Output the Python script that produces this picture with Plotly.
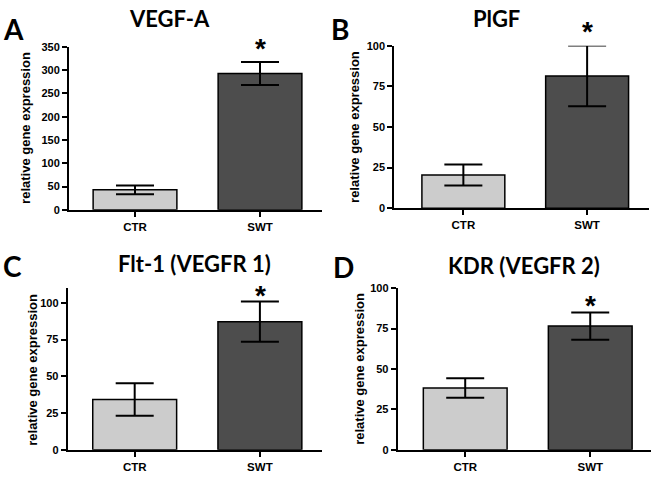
import plotly.graph_objects as go
from plotly.subplots import make_subplots

categories = ["CTR", "SWT"]
titles = ["VEGF-A", "PlGF", "Flt-1 (VEGFR 1)", "KDR (VEGFR 2)"]
letters = ["A", "B", "C", "D"]

vegfa_mean = [43, 293]
vegfa_err = [9.5, 24.5]
plgf_mean = [20.4, 81.4]
plgf_err = [6.4, 18.7]
flt1_mean = [34.2, 87.2]
flt1_err = [11.0, 13.7]
kdr_mean = [38.2, 76.5]
kdr_err = [6.0, 8.4]

y_max = [350, 100, 110, 100]
y_dtick = [50, 25, 25, 25]

means = [vegfa_mean, plgf_mean, flt1_mean, kdr_mean]
errs = [vegfa_err, plgf_err, flt1_err, kdr_err]

W, H = 656, 485
bar_colors = ["#cccccc", "#4d4d4d"]

# pixel layout: (x0, x1, ytop, ybottom, xr0, xr1)
layout_px = [
    (69, 322, 42, 209, -0.528, 1.496),
    (394.3, 649, 40.7, 207.3, -0.558, 1.50),
    (67.7, 322, 289.3, 455, -0.535, 1.496),
    (397.7, 651, 289.3, 455, -0.54, 1.486),
]
title_px = [(169, 13), (496, 13), (194, 264), (524, 266)]
letter_px = [(13, 24), (340, 24), (12, 267), (343, 268)]
ytitle_px = [(26, 125), (355, 124), (33, 373), (360, 372)]
star_px = [(260, 39), (587, 22), (260, 293), (590, 303)]

fig = make_subplots(rows=2, cols=2)
font_ytick = dict(family="Liberation Sans", size=11, color="black", weight="bold")
font_xtick = dict(family="Liberation Sans", size=11.5, color="black", weight="bold")

for i in range(4):
    r, c = i // 2 + 1, i % 2 + 1
    fig.add_trace(go.Bar(
        x=[0, 1], y=means[i],
        marker=dict(color=bar_colors, line=dict(color="black", width=1.5)),
        width=0.67,
        error_y=dict(type="data", array=errs[i], color="black", thickness=2, width=19),
        showlegend=False, hoverinfo="skip",
    ), row=r, col=c)
    x0, x1, yt, yb, xr0, xr1 = layout_px[i]
    xa = "xaxis" if i == 0 else f"xaxis{i+1}"
    ya = "yaxis" if i == 0 else f"yaxis{i+1}"
    fig.layout[xa].update(
        domain=[x0 / W, x1 / W], range=[xr0, xr1],
        tickvals=[0, 1], ticktext=categories,
        showline=True, linecolor="black", linewidth=2,
        ticks="outside", ticklen=5, tickwidth=2, tickcolor="black",
        showgrid=False, zeroline=False, tickfont=font_xtick,
    )
    fig.layout[ya].update(
        domain=[1 - yb / H, 1 - yt / H], range=[0, y_max[i]],
        dtick=y_dtick[i], tick0=0,
        showline=True, linecolor="black", linewidth=2,
        ticks="outside", ticklen=5, tickwidth=2, tickcolor="black",
        showgrid=False, zeroline=False, tickfont=font_ytick,
    )
    sx, sy = star_px[i]
    fig.add_annotation(x=sx / W, y=1 - sy / H, xref="paper", yref="paper",
                       xanchor="center", yanchor="middle",
                       text="*", showarrow=False, yshift=-4,
                       font=dict(family="Liberation Sans", size=28, color="black", weight="bold"))
    tx, ty = title_px[i]
    fig.add_annotation(x=tx / W, y=1 - ty / H, xref="paper", yref="paper",
                       xanchor="center", yanchor="middle",
                       text=titles[i], showarrow=False,
                       font=dict(family="Lato", size=22, color="black", weight="bold"))
    lx, ly = letter_px[i]
    fig.add_annotation(x=lx / W, y=1 - ly / H, xref="paper", yref="paper",
                       xanchor="center", yanchor="middle",
                       text=letters[i], showarrow=False,
                       font=dict(family="Lato", size=28, color="black", weight="bold"))
    yx, yy = ytitle_px[i]
    fig.add_annotation(x=yx / W, y=1 - yy / H, xref="paper", yref="paper",
                       xanchor="center", yanchor="middle",
                       text="relative gene expression", showarrow=False, textangle=-90,
                       font=dict(family="Liberation Sans", size=13, color="black", weight="bold"))

fig.update_layout(width=W, height=H, margin=dict(l=0, r=0, t=0, b=0),
                  paper_bgcolor="white", plot_bgcolor="white", bargap=0.3,
                  hovermode=False)
fig.write_html("out.html", config={"displayModeBar": False, "staticPlot": True},
               post_script="document.body.style.margin='0';document.body.style.overflow='hidden';")
